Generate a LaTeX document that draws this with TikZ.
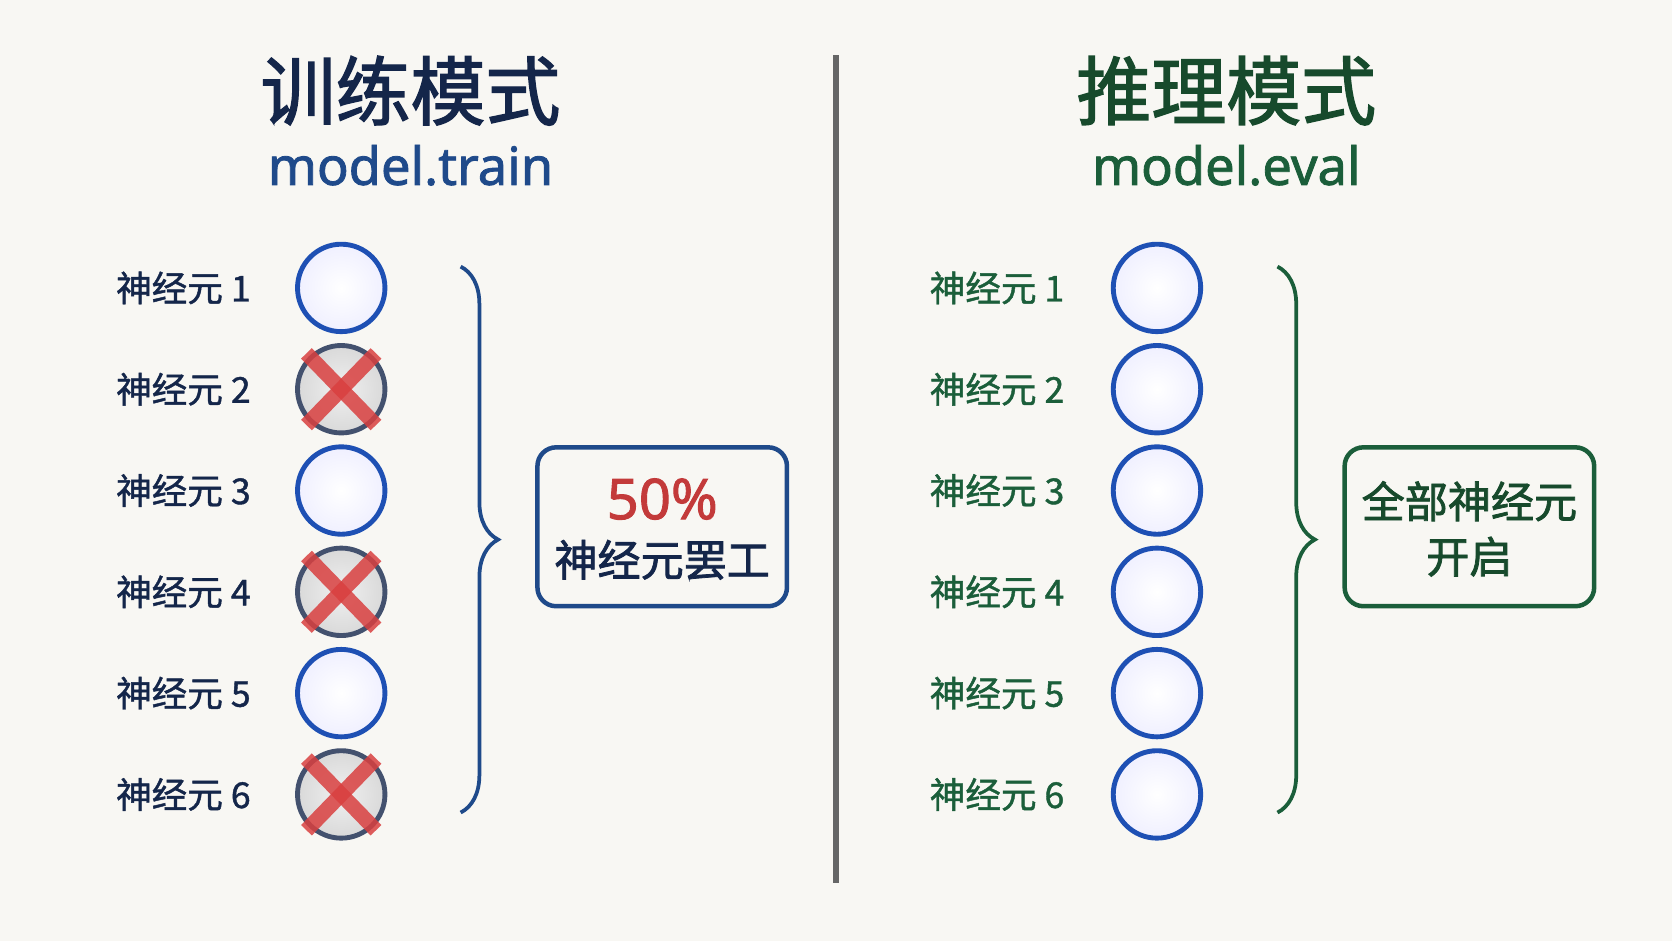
\documentclass[tikz,border=0pt]{standalone}
\usepackage{fontspec}
\newfontfamily\cjk{Noto Sans CJK SC}[FakeBold=1.2]
\newfontfamily\cjkb{Noto Sans CJK SC}[FakeBold=1.8]
\newfontfamily\latb{Noto Sans}[FakeBold=1.6]
\setmainfont{Noto Sans}
\usetikzlibrary{decorations.pathreplacing}
\definecolor{bgc}{HTML}{F8F7F3}
\definecolor{navy}{HTML}{14264A}
\definecolor{tblue}{HTML}{1F4A8A}
\definecolor{cblue}{HTML}{1E50B4}
\definecolor{dgreen}{HTML}{174A2C}
\definecolor{tgreen}{HTML}{1B5E3A}
\definecolor{xred}{HTML}{D94040}
\tikzset{
  neuron/.style={circle, draw=cblue, line width=1.3pt, minimum size=8.2mm, inner sep=0pt,
    inner color=white, outer color=blue!6},
  off/.style={circle, draw=navy!80, line width=1.3pt, minimum size=8.2mm, inner sep=0pt,
    inner color=gray!12, outer color=gray!30},
  lab/.style={font=\cjk\fontsize{9.5}{12}\selectfont, anchor=center},
  kill/.style={draw=xred, line width=4pt, opacity=0.85},
  br/.style={decorate, decoration={brace, amplitude=10pt}, line width=1pt},
  infobox/.style={draw, rounded corners=5pt, line width=1.2pt, fill=bgc,
    minimum width=2.34cm, minimum height=1.49cm}
}
\begin{document}
\begin{tikzpicture}
\fill[bgc] (0,0) rectangle (15.68,8.82);
\useasboundingbox (0,0) rectangle (15.68,8.82);
% titles
\node[font=\cjkb\fontsize{20}{24}\selectfont, text=navy] (ttrain) at (3.85,7.97) {训练模式};
\node[font=\latb\fontsize{14}{17}\selectfont, text=tblue] (mtrain) at (3.85,7.27) {model.train};
\node[font=\cjkb\fontsize{20}{24}\selectfont, text=dgreen] (teval) at (11.50,7.97) {推理模式};
\node[font=\latb\fontsize{14}{17}\selectfont, text=tgreen] (meval) at (11.50,7.27) {model.eval};
% divider
\draw[gray!80!black, line width=1.5pt] (7.84,8.30) -- (7.84,0.54);
% neurons
\foreach \i in {1,...,6}{
  \pgfmathsetmacro{\yy}{8.82-2.70-0.95*(\i-1)}
  \node[lab, text=navy] (ltrain\i) at (1.72,\yy) {神经元 \i};
  \node[lab, text=tgreen] (leval\i) at (9.35,\yy) {神经元 \i};
  \node[neuron] (neval\i) at (10.85,\yy) {};
}
\foreach \i in {1,3,5}{
  \pgfmathsetmacro{\yy}{8.82-2.70-0.95*(\i-1)}
  \node[neuron] (ntrain\i) at (3.20,\yy) {};
}
\foreach \i in {2,4,6}{
  \pgfmathsetmacro{\yy}{8.82-2.70-0.95*(\i-1)}
  \node[off] (ntrain\i) at (3.20,\yy) {};
  \draw[kill] (ntrain\i.north west) ++(-0.02,0.03) -- ([shift={(0.02,-0.03)}]ntrain\i.south east);
  \draw[kill] (ntrain\i.north east) ++(0.02,0.03) -- ([shift={(-0.02,-0.03)}]ntrain\i.south west);
}
% braces
\draw[br, tblue] (4.32,6.32) -- (4.32,1.20);
\draw[br, tgreen] (11.98,6.32) -- (11.98,1.20);
% boxes
\node[infobox, draw=tblue] (btrain) at (6.21,3.88) {};
\node[font=\latb\fontsize{15}{18}\selectfont, text=xred!90!black] (pct) at (6.21,4.14) {50\%};
\node[font=\cjkb\fontsize{11.5}{14}\selectfont, text=navy] (strike) at (6.21,3.57) {神经元罢工};
\node[infobox, draw=tgreen] (beval) at (13.78,3.88) {};
\node[font=\cjkb\fontsize{11.5}{14}\selectfont, text=dgreen] (allon) at (13.78,4.12) {全部神经元};
\node[font=\cjkb\fontsize{11.5}{14}\selectfont, text=dgreen] (allon2) at (13.78,3.60) {开启};
\end{tikzpicture}
\end{document}
